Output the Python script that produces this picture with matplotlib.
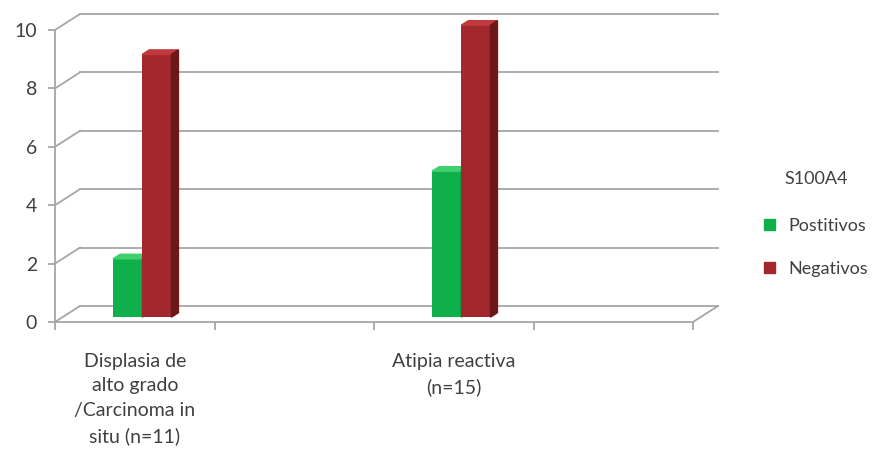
import numpy as np
import matplotlib.pyplot as plt
from matplotlib.patches import Polygon, Patch

categories = ["Displasia de\nalto grado\n/Carcinoma in\nsitu (n=11)", "",
              "Atipia reactiva\n(n=15)", ""]
positivos = [2, np.nan, 5, np.nan]
negativos = [9, np.nan, 10, np.nan]
series_names = ["Postitivos", "Negativos"]
legend_title = "S100A4"
yticks = [0, 2, 4, 6, 8, 10]

plt.rcParams['font.family'] = ['Lato', 'DejaVu Sans']
txt = '#404040'
grid_c = '#a6a6a6'

# face colours: front, top, side
green = ('#0fb04c', '#3fd06e', '#0a8a3a')
red = ('#a3282d', '#c0393c', '#6e1719')

fig = plt.figure(figsize=(8.93, 4.61), dpi=100)
ax = fig.add_axes([55 / 893, 1 - 322 / 461, 638 / 893, 292 / 461])
ax.set_xlim(0, len(categories))
ax.set_ylim(0, 10)

# depth of the back wall in data units
ddx, ddy = 0.157, 0.55
# bars sit between these fractions of the depth
f0, f1 = 0.3, 0.58

for v in yticks:
    ax.plot([ddx, len(categories) + ddx], [v + ddy, v + ddy], color=grid_c,
            lw=1.3, clip_on=False, zorder=1)
    ax.plot([0, ddx], [v, v + ddy], color=grid_c, lw=1.3, clip_on=False, zorder=1)
ax.plot([len(categories), len(categories) + ddx], [0, ddy], color=grid_c,
        lw=1.3, clip_on=False, zorder=1)

bw = 0.183
x = np.arange(len(categories))
for vals, cols, off in [(positivos, green, 0.364), (negativos, red, 0.364 + bw)]:
    for xi, v in zip(x, vals):
        if np.isnan(v):
            continue
        x0 = xi + off
        y0 = f0 * ddy
        ax.bar(x0, v, width=bw, bottom=y0, align='edge', color=cols[0],
               zorder=3, clip_on=False)
        sx, sy = (f1 - f0) * ddx, (f1 - f0) * ddy
        top = Polygon([(x0, y0 + v), (x0 + bw, y0 + v), (x0 + bw + sx, y0 + v + sy),
                       (x0 + sx, y0 + v + sy)], closed=True, color=cols[1],
                      zorder=3, clip_on=False)
        side = Polygon([(x0 + bw, y0), (x0 + bw + sx, y0 + sy),
                        (x0 + bw + sx, y0 + v + sy), (x0 + bw, y0 + v)],
                       closed=True, color=cols[2], zorder=3, clip_on=False)
        ax.add_patch(top)
        ax.add_patch(side)

for s in ['top', 'right']:
    ax.spines[s].set_visible(False)
for s in ['left', 'bottom']:
    ax.spines[s].set_color(grid_c)
    ax.spines[s].set_linewidth(1.3)

ax.set_yticks(yticks)
ax.tick_params(axis='y', colors=grid_c, labelcolor=txt, labelsize=14,
               length=5, width=1.3, pad=8)
ax.set_xticks(np.arange(len(categories) + 1))
ax.set_xticklabels([])
ax.tick_params(axis='x', which='major', colors=grid_c, length=6, width=1.3)
ax.set_xticks(x + 0.5, minor=True)
ax.set_xticklabels(categories, minor=True)
ax.tick_params(axis='x', which='minor', length=0, labelcolor=txt,
               labelsize=14, pad=22)
for lbl in ax.get_xticklabels(minor=True):
    lbl.set_linespacing(1.55)

handles = [Patch(color=green[0]), Patch(color=red[0])]
leg = fig.legend(handles, series_names, title=legend_title, loc='center',
                 bbox_to_anchor=(816 / 893, 1 - 224 / 461), frameon=False,
                 fontsize=13, title_fontsize=13, handlelength=0.6,
                 handleheight=0.6, labelspacing=1.5, handletextpad=0.7)
for t in leg.get_texts():
    t.set_color(txt)
leg.get_title().set_color(txt)
leg._legend_box.sep = 22

fig.savefig('out.png', dpi=100)
